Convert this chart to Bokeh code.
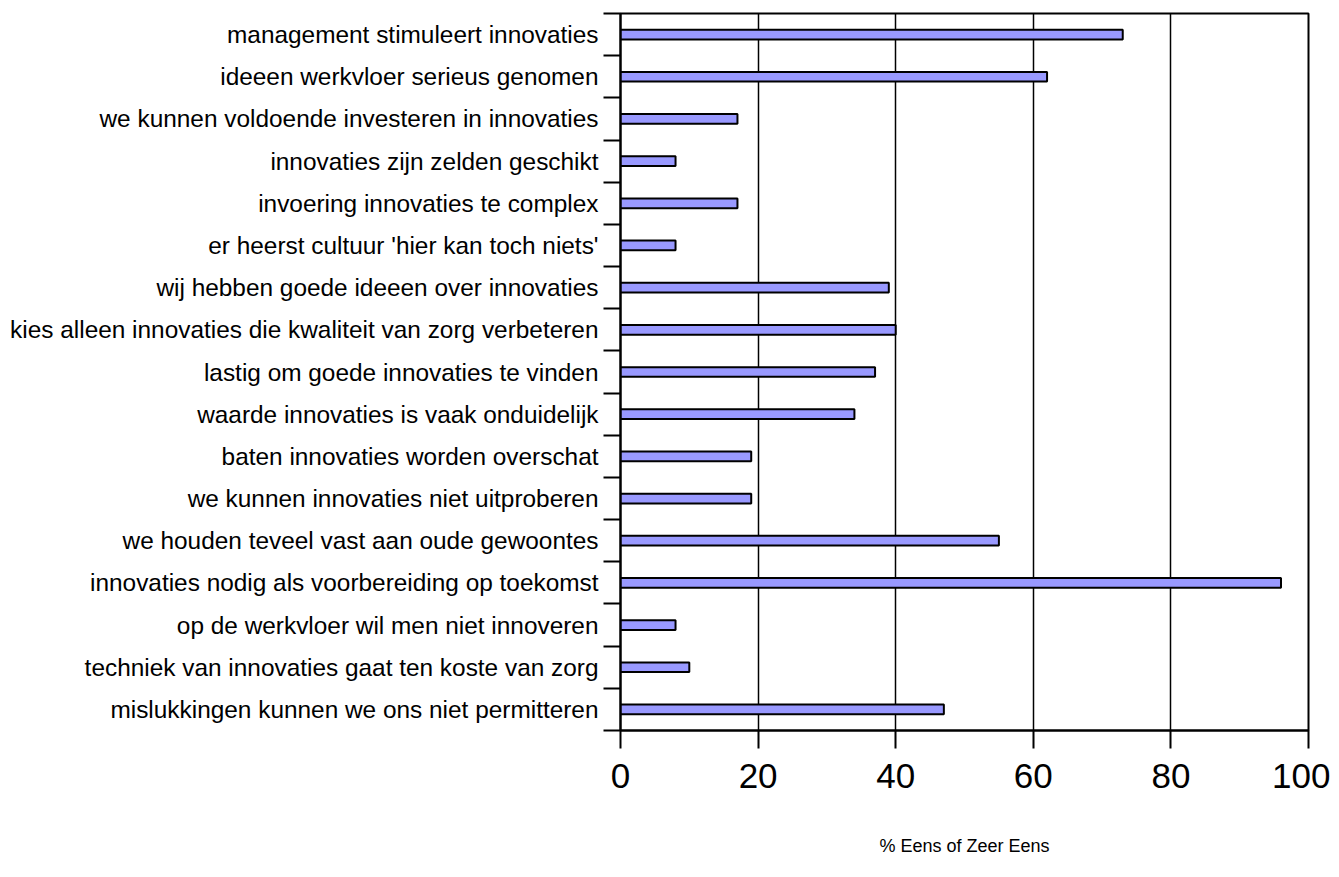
from bokeh.plotting import figure
from bokeh.models import Range1d, LinearAxis, FixedTicker, CustomJSTickFormatter
from bokeh.embed import file_html
from bokeh.resources import INLINE

categories = [
    "management stimuleert innovaties",
    "ideeen werkvloer serieus genomen",
    "we kunnen voldoende investeren in innovaties",
    "innovaties zijn zelden geschikt",
    "invoering innovaties te complex",
    "er heerst cultuur 'hier kan toch niets'",
    "wij hebben goede ideeen over innovaties",
    "kies alleen innovaties die kwaliteit van zorg verbeteren",
    "lastig om goede innovaties te vinden",
    "waarde innovaties is vaak onduidelijk",
    "baten innovaties worden overschat",
    "we kunnen innovaties niet uitproberen",
    "we houden teveel vast aan oude gewoontes",
    "innovaties nodig als voorbereiding op toekomst",
    "op de werkvloer wil men niet innoveren",
    "techniek van innovaties gaat ten koste van zorg",
    "mislukkingen kunnen we ons niet permitteren",
]
values = [73, 62, 17, 8, 17, 8, 39, 40, 37, 34, 19, 19, 55, 96, 8, 10, 47]
x_ticks = [0, 20, 40, 60, 80, 100]
x_label = "% Eens of Zeer Eens"

FONT = "Liberation Sans"
n = len(categories)
# slot position of each category (top item highest)
ypos = [n - 1 - i + 0.5 for i in range(n)]
names_bottom_up = list(reversed(categories))

p = figure(
    width=1330, height=877,
    y_range=Range1d(0, n),
    x_range=Range1d(0, 100),
    output_backend="svg", toolbar_location=None,
    y_axis_location=None,
    min_border_left=620, min_border_right=22, min_border_top=13, min_border_bottom=147,
)

# labels at slot centres, ticks (minor) at slot boundaries
label_axis = LinearAxis(
    ticker=FixedTicker(ticks=ypos, minor_ticks=list(range(n + 1))),
    formatter=CustomJSTickFormatter(args=dict(names=names_bottom_up),
                                    code="const k = Math.floor(tick); return (k >= 0 && k < names.length) ? names[k] : '';"),
    major_tick_out=0, major_tick_in=0, major_tick_line_color=None,
    minor_tick_out=17, minor_tick_in=0,
    minor_tick_line_color="black", minor_tick_line_width=2,
    axis_line_color="black", axis_line_width=2,
    major_label_text_font=FONT, major_label_text_font_size="24.4px",
    major_label_text_color="black", major_label_standoff=5,
)
p.add_layout(label_axis, "left")

p.xaxis.ticker = FixedTicker(ticks=x_ticks)
p.xaxis.major_tick_out = 18
p.xaxis.major_tick_in = 0
p.xaxis.major_tick_line_color = "black"
p.xaxis.major_tick_line_width = 2
p.xaxis.minor_tick_line_color = None
p.xaxis.axis_line_color = "black"
p.xaxis.axis_line_width = 2
p.xaxis.major_label_text_font = FONT
p.xaxis.major_label_text_font_size = "35px"
p.xaxis.major_label_text_color = "black"
p.xaxis.major_label_standoff = 15
p.xaxis.axis_label = x_label
p.xaxis.axis_label_text_font = FONT
p.xaxis.axis_label_text_font_size = "18px"
p.xaxis.axis_label_text_font_style = "normal"
p.xaxis.axis_label_text_color = "black"
p.xaxis.axis_label_standoff = 45

p.xgrid.ticker = FixedTicker(ticks=x_ticks)
p.xgrid.grid_line_color = "black"
p.xgrid.grid_line_width = 1.5
p.ygrid.grid_line_color = None

p.outline_line_color = "black"
p.outline_line_width = 2

p.hbar(y=ypos, right=values, left=0, height=0.23,
       fill_color="#9999FF", line_color="black", line_width=2)

open("out.html", "w").write(file_html(p, INLINE))
